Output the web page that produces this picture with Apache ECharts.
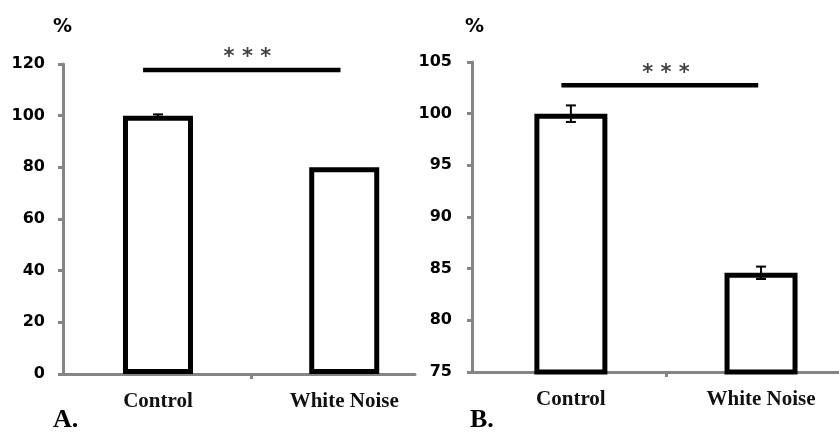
<!DOCTYPE html>
<html>
<head>
<meta charset="utf-8">
<script src="https://cdn.jsdelivr.net/npm/echarts@6/dist/echarts.min.js"></script>
<style>html,body{margin:0;padding:0;background:#fff;}#c{width:839px;height:434px;}</style>
</head>
<body>
<div id="c"></div>
<script>
const categories = ['Control', 'White Noise'];
const valuesA = [100, 80];
const errorsA = [0.5, 0];
const valuesB = [100, 84.6];
const errorsB = [0.8, 0.6];
const yRangeA = [0, 120, 20];
const yRangeB = [75, 105, 5];
const sigLineA = [[-0.08, 117.7], [0.98, 117.7]];
const sigLineB = [[-0.05, 102.75], [0.985, 102.75]];
const sigStarA = [[0.48, 117.7]];
const sigStarB = [[0.5, 102.75]];
const sigText = '* * *';

const chart = echarts.init(document.getElementById('c'));
const axisGray = '#858585';
const tickFont = { fontFamily: 'DejaVu Sans', fontWeight: 'bold', fontSize: 16, color: '#000' };
const catFont = { fontFamily: 'Liberation Serif', fontWeight: 'bold', fontSize: 21, color: '#111' };

function xAxisFor(gi, min, max) {
  return {
    type: 'value', gridIndex: gi, min: min, max: max,
    axisLine: { show: true, onZero: false, lineStyle: { color: axisGray, width: 3 } },
    axisTick: { show: true, customValues: [0.5], length: 5, lineStyle: { color: axisGray, width: 3 } },
    axisLabel: { show: true, customValues: [0, 1], margin: 17, formatter: v => categories[Math.round(v)], ...catFont },
    splitLine: { show: false }
  };
}
function yAxisFor(gi, r, margin) {
  return {
    type: 'value', gridIndex: gi, min: r[0], max: r[1], interval: r[2],
    axisLine: { show: true, onZero: false, lineStyle: { color: axisGray, width: 3 } },
    axisTick: { show: true, length: 5, lineStyle: { color: axisGray, width: 3 } },
    axisLabel: { margin: margin, ...tickFont },
    splitLine: { show: false }
  };
}
function bars(gi, vals, bw) {
  return {
    type: 'bar', xAxisIndex: gi, yAxisIndex: gi, barWidth: bw,
    data: vals.map((v, i) => [i, v]),
    itemStyle: { color: '#fff', borderColor: '#000', borderWidth: 5 },
    z: 2
  };
}
function errBars(gi, vals, errs) {
  return {
    type: 'custom', xAxisIndex: gi, yAxisIndex: gi, z: 5,
    data: vals.map((v, i) => [i, v, errs[i]]),
    renderItem: function (params, api) {
      const x = api.value(0), y = api.value(1), e = api.value(2);
      if (!e) return null;
      const hi = api.coord([x, y + e]);
      const lo = api.coord([x, y - e]);
      const style = { stroke: '#000', lineWidth: 2 };
      return {
        type: 'group',
        children: [
          { type: 'line', shape: { x1: hi[0], y1: hi[1], x2: lo[0], y2: lo[1] }, style: style },
          { type: 'line', shape: { x1: hi[0] - 5, y1: hi[1], x2: hi[0] + 5, y2: hi[1] }, style: style },
          { type: 'line', shape: { x1: lo[0] - 5, y1: lo[1], x2: lo[0] + 5, y2: lo[1] }, style: style }
        ]
      };
    }
  };
}
function sigLine(gi, pts) {
  return {
    type: 'line', xAxisIndex: gi, yAxisIndex: gi, data: pts, symbol: 'none',
    lineStyle: { color: '#000', width: 4.5 }, z: 5, silent: true
  };
}
function sigStar(gi, pts) {
  return {
    type: 'scatter', xAxisIndex: gi, yAxisIndex: gi, data: pts, symbolSize: 1,
    itemStyle: { color: 'rgba(0,0,0,0)' }, z: 5, silent: true,
    label: { show: true, position: 'inside', offset: [0, -12], formatter: sigText,
      fontFamily: 'DejaVu Sans', fontWeight: 'bold', fontSize: 21, color: '#111' }
  };
}

chart.setOption({
  animation: false,
  backgroundColor: '#fff',
  grid: [
    { left: 63, top: 64, width: 352, bottom: 60, containLabel: false },
    { left: 472, top: 62, width: 367, bottom: 62, containLabel: false }
  ],
  xAxis: [xAxisFor(0, -0.51, 1.38), xAxisFor(1, -0.52, 1.41)],
  yAxis: [yAxisFor(0, yRangeA, 18), yAxisFor(1, yRangeB, 20)],
  graphic: [
    { type: 'text', left: 53, top: 18, style: { text: '%', font: 'bold 19px "DejaVu Sans"', fill: '#000' } },
    { type: 'text', left: 465, top: 18, style: { text: '%', font: 'bold 19px "DejaVu Sans"', fill: '#000' } },
    { type: 'text', left: 53, top: 407, style: { text: 'A.', font: 'bold 26px "Liberation Serif"', fill: '#000' } },
    { type: 'text', left: 470, top: 407, style: { text: 'B.', font: 'bold 26px "Liberation Serif"', fill: '#000' } }
  ],
  series: [
    bars(0, valuesA, 70), errBars(0, valuesA, errorsA), sigLine(0, sigLineA), sigStar(0, sigStarA),
    bars(1, valuesB, 73), errBars(1, valuesB, errorsB), sigLine(1, sigLineB), sigStar(1, sigStarB)
  ]
});
</script>
</body>
</html>
